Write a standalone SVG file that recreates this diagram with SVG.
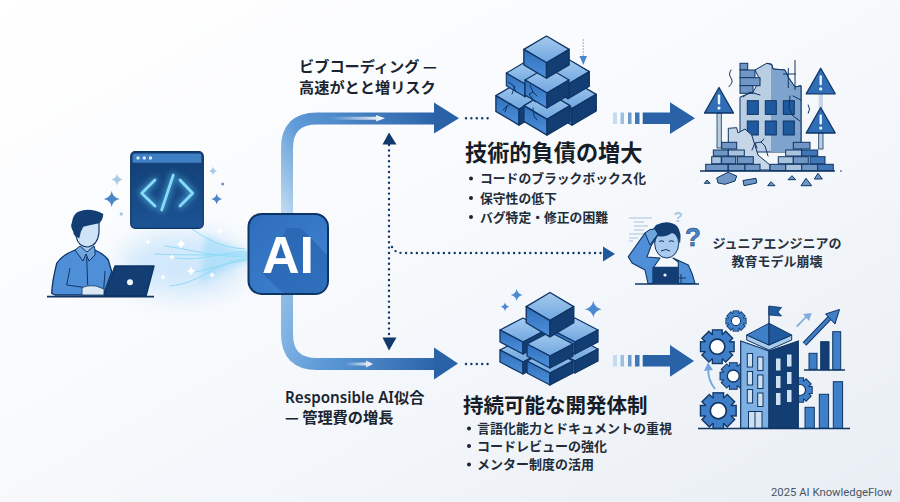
<svg xmlns="http://www.w3.org/2000/svg" width="900" height="502" viewBox="0 0 900 502">
<style>
text{font-family:"Noto Sans CJK JP","Noto Sans",sans-serif;fill:#1a2430}
.lab{font-size:15.2px;font-weight:700}
.head{font-size:22.2px;font-weight:700;fill:#151d28}
.item{font-size:12.8px;font-weight:700;fill:#222c38}
.jr{font-size:13px;font-weight:700;text-anchor:middle;fill:#27323f}
.win{fill:#1f5a9e;stroke:#0f3565;stroke-width:1}
.br{fill:#6f96c4;stroke:#0f3565;stroke-width:1}
.brl{fill:#a9c3df;stroke:#0f3565;stroke-width:1}
.brd{fill:#3f77b8;stroke:#0f3565;stroke-width:1}
.wtri{fill:#2f6db5;stroke:#0f3565;stroke-width:1.3;stroke-linejoin:round}
.pole{fill:#b9cde3;stroke:#0f3565;stroke-width:.8}
.ex{fill:#e8f3fc}
.crack{fill:none;stroke:#0f3565;stroke-width:1;stroke-linecap:round;stroke-linejoin:round}
.wl{fill:#cfe0f1;stroke:#0f3565;stroke-width:1}
.bar{fill:#3f7fc8;stroke:#0f3565;stroke-width:1}
.dot{fill:none;stroke:#10386a;stroke-width:2.4;stroke-linecap:round;stroke-dasharray:0 5.4}
.wave{fill:none;stroke:#8fdcf8;stroke-width:1;stroke-linecap:round}
.rub{fill:#6f96c4;stroke:#0f3565;stroke-width:1;stroke-linejoin:round}
</style>
<defs>
<linearGradient id="bg" x1="0" y1="0" x2="1" y2="1"><stop offset="0" stop-color="#ffffff"/><stop offset=".45" stop-color="#f8fafd"/><stop offset="1" stop-color="#e9eef4"/></linearGradient>
<linearGradient id="g1" gradientUnits="userSpaceOnUse" x1="287" y1="215" x2="440" y2="118"><stop offset="0" stop-color="#bcd8f0"/><stop offset=".3" stop-color="#5f9bd8"/><stop offset="1" stop-color="#2a62a8"/></linearGradient>
<linearGradient id="g2" gradientUnits="userSpaceOnUse" x1="287" y1="294" x2="440" y2="364"><stop offset="0" stop-color="#8dbbe6"/><stop offset=".35" stop-color="#5f9bd8"/><stop offset="1" stop-color="#2a62a8"/></linearGradient>
<linearGradient id="sh" x1="0" x2="1"><stop offset="0" stop-color="#fff" stop-opacity="0"/><stop offset="1" stop-color="#fff"/></linearGradient>
<linearGradient id="ai" x1="0" y1="0" x2="1" y2="1"><stop offset="0" stop-color="#2e6cba"/><stop offset="1" stop-color="#4086d4"/></linearGradient>
<linearGradient id="win" x1="0" y1="0" x2="0" y2="1"><stop offset="0" stop-color="#123e74"/><stop offset="1" stop-color="#1b5394"/></linearGradient>
<linearGradient id="ct" x1="0" y1="0" x2="0" y2="1"><stop offset="0" stop-color="#a6cbef"/><stop offset="1" stop-color="#6fa6e0"/></linearGradient>
<linearGradient id="cl" x1="0" y1="0" x2="0" y2="1"><stop offset="0" stop-color="#2f6eba"/><stop offset="1" stop-color="#4f91dc"/></linearGradient>
<filter id="b3" x="-50%" y="-50%" width="200%" height="200%"><feGaussianBlur stdDeviation="3"/></filter>
<filter id="b12" x="-50%" y="-80%" width="200%" height="260%"><feGaussianBlur stdDeviation="12"/></filter>
<g id="cube" stroke="#0f3565" stroke-width="1.3" stroke-linejoin="round">
<polygon points="0,0 -22,13 0,26 22,13" fill="url(#ct)"/>
<polygon points="-22,13 0,26 0,41 -22,28" fill="url(#cl)"/>
<polygon points="22,13 0,26 0,41 22,28" fill="#123e74"/>
</g>
<g id="flat" stroke="#0f3565" stroke-width="1.3" stroke-linejoin="round">
<polygon points="0,0 -23,12 0,24 23,12" fill="url(#ct)"/>
<polygon points="-23,12 0,24 0,36 -23,24" fill="url(#cl)"/>
<polygon points="23,12 0,24 0,36 23,24" fill="#123e74"/>
</g>
<path id="star" d="M0-10Q1.5-1.5 10 0Q1.5 1.5 0 10Q-1.5 1.5-10 0Q-1.5-1.5 0-10Z"/>
<g id="gear">
<g fill="#0f3565"><rect x="-3.4" y="-10.6" width="6.8" height="21.2"/><rect x="-3.4" y="-10.6" width="6.8" height="21.2" transform="rotate(45)"/><rect x="-3.4" y="-10.6" width="6.8" height="21.2" transform="rotate(90)"/><rect x="-3.4" y="-10.6" width="6.8" height="21.2" transform="rotate(135)"/><circle r="8.400"/></g>
<g fill="#3f7fc8"><rect x="-2.6" y="-9.8" width="5.2" height="19.6"/><rect x="-2.6" y="-9.8" width="5.2" height="19.6" transform="rotate(45)"/><rect x="-2.6" y="-9.8" width="5.2" height="19.6" transform="rotate(90)"/><rect x="-2.6" y="-9.8" width="5.2" height="19.6" transform="rotate(135)"/><circle r="7.600"/></g>
<circle r="4.600" fill="#fff" stroke="#0f3565"/>
</g>
<g id="warn"><polygon class="wtri" points="0,0 14.5,25.5 -14.5,25.5"/><rect class="ex" x="-1.2" y="7" width="2.4" height="10" rx="1"/><circle class="ex" cy="20.6" r="1.6"/></g>
</defs>
<rect width="900" height="502" fill="url(#bg)"/>

<g id="connectors">
<path d="M287 215V148Q287 118.500 317 118.500H436" fill="none" stroke="url(#g1)" stroke-width="12"/>
<polygon points="434,102.500 459,118.300 434,133.500" fill="#2a62a8"/>
<path d="M330 116.800H376V115L385 118.300L376 121.600V119.800H330Z" fill="url(#sh)"/>
<path d="M287 293V334Q287 364 317 364H436" fill="none" stroke="url(#g2)" stroke-width="12"/>
<polygon points="434,347.500 458,363.500 434,379.500" fill="#2a62a8"/>
<path d="M345 362.600H366V360.500L373 364L366 367.500V365.400H345Z" fill="url(#sh)"/>
<path class="dot" d="M389 145V338"/>
<path class="dot" d="M392 247Q395 253 403 253H603"/>
<polygon points="389,132.500 382.500,144.500 396.500,144.500" fill="#10386a"/>
<polygon points="382.500,337.500 396.500,337.500 389,350.500" fill="#10386a"/>
<polygon points="603,246.500 615,254 603,261.500" fill="#1f5a9e"/>
<path class="dot" d="M466 118.300H488"/>
<path class="dot" d="M466 364H488"/>
<g id="arrow-top">
<rect x="613" y="112.500" width="4" height="11.500" fill="#c5dbef"/><rect x="620.500" y="112.500" width="3.500" height="11.500" fill="#9dc0e2"/><rect x="628" y="112.500" width="3.500" height="11.500" fill="#6e9ccd"/><rect x="635" y="112.500" width="4.500" height="11.500" fill="#3f77b8"/>
<path d="M642.700 112.500H670V102.300L695 118.300L670 134V124H642.700Z" fill="#2a62a8"/>
</g>
<g id="arrow-bottom">
<rect x="613" y="355" width="4" height="11.500" fill="#c5dbef"/><rect x="620.500" y="355" width="3.500" height="11.500" fill="#9dc0e2"/><rect x="628" y="355" width="3.500" height="11.500" fill="#6e9ccd"/><rect x="635" y="355" width="4.500" height="11.500" fill="#3f77b8"/>
<path d="M642.700 355H670V345L694 361L670 376.700V366.500H642.700Z" fill="#2a62a8"/>
</g>
</g>

<g id="flow">
<ellipse cx="183" cy="264" rx="62" ry="32" fill="#c4e2fa" opacity=".75" filter="url(#b12)"/>
<path d="M205 236Q232 248 248 252V262Q225 268 200 284Z" fill="#a4dcfa" opacity=".7" filter="url(#b3)"/>
<path class="wave" d="M168 219C195 222 200 246 245 249"/>
<path class="wave" d="M155 254Q200 256 247 254"/>
<path class="wave" d="M165 246C195 250 215 258 247 256"/>
<path class="wave" d="M175 258C205 262 225 250 247 252"/>
<path class="wave" d="M170 286C200 284 215 262 247 258"/>
<path class="wave" d="M195 272C215 268 230 262 247 260"/>
<g fill="#fff"><use href="#star" transform="translate(181,244) scale(.5)"/><use href="#star" transform="translate(191,271) scale(.5)"/><use href="#star" transform="translate(220,231) scale(.35)"/><use href="#star" transform="translate(212,275) scale(.3)"/><use href="#star" transform="translate(172,257) scale(.3)"/><use href="#star" transform="translate(163,277) scale(.3)"/><use href="#star" transform="translate(148,242) scale(.3)"/></g>
</g>

<g id="developer">
<path d="M51.700 293.300Q52 282 56.700 263.300Q62 255 75 250L95 250Q104 254 108.300 260L111.700 271.700L103.300 295H55Z" fill="#4f8fd8" stroke="#0f3565" stroke-width="1.300" stroke-linejoin="round"/>
<path d="M86.700 256.700L87.700 285M70 268L66.700 285L83.300 287.300M105 271L103.300 295" fill="none" stroke="#0f3565" stroke-width="1"/>
<rect x="81" y="240" width="13" height="12" fill="#a9cbee"/>
<path d="M75 250L80 246L87 252L94 246L95 250L95 255L89 261L86 254L83 261Z" fill="#6ea5dc" stroke="#0f3565" stroke-width="1" stroke-linejoin="round"/>
<path d="M76 226V236Q78 247 88 247Q98 245 99 232V222Z" fill="#cfe3f6" stroke="#0f3565" stroke-width="1.200"/>
<path d="M79.300 238.300Q73 236 73.300 231.700Q70 226 71.700 223.300Q73 214 78.300 211.700Q90 207 103.300 214Q103 220 99.300 223.300Q90 225 83.300 226.700Q80 232 79.300 238.300Z" fill="#123e74"/>
<path d="M82 288Q86 285 96 286L104 289V295H82Z" fill="#dbe8f5" stroke="#0f3565" stroke-width=".8"/>
<polygon points="115,266 154,266 146,296 104,296" fill="#123e74" stroke="#0f3565" stroke-width="1.400" stroke-linejoin="round"/>
<circle cx="130" cy="282.300" r="3" fill="#f1f6fb"/>
<path d="M47 296.700H154" stroke="#0f3565" stroke-width="1.800"/>
</g>

<g id="code-window">
<rect x="130.700" y="151.700" width="72.600" height="76.600" rx="4.500" fill="url(#win)" stroke="#0f3565" stroke-width="1.200"/>
<path d="M132.500 155.500Q132.500 153.500 135 153.500H199Q201.500 153.500 201.500 155.500V162.700H132.500Z" fill="#3f7fc4"/>
<circle cx="138" cy="158" r="1.700" fill="#d8e9f8"/><circle cx="144.300" cy="158" r="1.700" fill="#d8e9f8"/><circle cx="150.500" cy="158" r="1.700" fill="#d8e9f8"/>
<path d="M155 180L141.700 193.300L155 206M173.300 175L161.700 210M180 180L192.700 193.300L180 206" fill="none" stroke="#5cc4f2" stroke-width="5" stroke-linecap="round" stroke-linejoin="round" filter="url(#b3)" opacity=".7"/>
<path d="M155 180L141.700 193.300L155 206M173.300 175L161.700 210M180 180L192.700 193.300L180 206" fill="none" stroke="#86dcf8" stroke-width="2.800" stroke-linecap="round" stroke-linejoin="round"/>
<g fill="#4a86c8"><use href="#star" transform="translate(111.700,199) scale(.8)"/><use href="#star" transform="translate(216.700,199) scale(.55)"/></g>
<g fill="#a9cbe6"><use href="#star" transform="translate(117,179.500) scale(.6)"/><use href="#star" transform="translate(213,171) scale(.45)"/></g>
<circle cx="222.700" cy="184" r="1.500" fill="#6a94bf"/><circle cx="121.300" cy="214" r="1.700" fill="#a9c8e0"/>
</g>

<g id="ai-node">
<rect x="248.500" y="214" width="79.500" height="80" rx="13" fill="url(#ai)" stroke="#0d3463" stroke-width="2"/>
<path d="M262 273L287 228L301 228L327 255V281Q327 293 315 293H283Z" fill="#2560ac" opacity=".6"/>
<text x="288" y="273" text-anchor="middle" style="font-family:'Liberation Sans',sans-serif;font-size:52px;font-weight:700;fill:#fff">AI</text>
</g>

<g id="vibe-label"><text class="lab" x="299" y="72">ビブコーディング —</text><text class="lab" x="299" y="92.500">高速がとと増リスク</text></g>

<g id="debt-cubes">
<use href="#cube" transform="translate(519,82) scale(1.050)"/>
<use href="#cube" transform="translate(572,80) scale(1.100)"/>
<use href="#cube" transform="translate(525,62) scale(.85)"/>
<use href="#cube" transform="translate(568,59) scale(.97)"/>
<use href="#cube" transform="translate(547,92) scale(1.050)"/>
<use href="#cube" transform="translate(547,67) scale(1)"/>
<use href="#cube" transform="translate(546.500,36) scale(1.030)"/>
<path class="crack" d="M508 82L513 85L516 92M515 86L512 94M505 112L507 106L511 104M507 106L503 110M530 85L533 92L529 94L535 102M533 92L537 96M533 108L534 116L537 120" stroke-width=".9"/>
<path class="dot" style="stroke:#7aa5d5;stroke-width:1.500;stroke-dasharray:0 3" d="M583.300 40V56"/>
<polygon points="579.500,56 587,56 583.300,65" fill="#4a86c8"/>
</g>

<g id="debt-text">
<text class="head" x="465" y="161">技術的負債の増大</text>
<circle cx="471" cy="178.500" r="2" fill="#1a2430"/><circle cx="471" cy="198" r="2" fill="#1a2430"/><circle cx="471" cy="217" r="2" fill="#1a2430"/>
<text class="item" x="480" y="183">コードのブラックボックス化</text>
<text class="item" x="480" y="202.500">保守性の低下</text>
<text class="item" x="480" y="221.500">バグ特定・修正の困難</text>
</g>

<g id="ruined-building">
<path d="M740 152V97L753 92L760 80L755 70L766.700 63.300L771.700 64.300L773 69L785 70L788 76.700L795 87L801 85.700V152Z" fill="#b9cde3" stroke="#0f3565" stroke-width="1" stroke-linejoin="round"/>
<path d="M771 64.800L773 69L785 70L788 76.700L795 87L801 85.700V152H771Z" fill="#7ea3cc"/>
<path d="M766.700 63.300L771.700 64.300L773 69L785 70L788 76.700L795 87L801 85.700V152" fill="none" stroke="#0f3565" stroke-width="1" stroke-linejoin="round"/>
<path d="M795 60V90M788.300 68V88M783 74H796" stroke="#0f3565" stroke-width="1" fill="none"/>
<rect class="br" x="740" y="63.300" width="7.700" height="6.700"/><rect class="br" x="740" y="70" width="15" height="7.700"/><rect class="br" x="740" y="77.700" width="20" height="8"/><rect class="br" x="740" y="85.700" width="13" height="7.600"/>
<rect class="win" x="747.300" y="100.700" width="11" height="13.700"/><rect class="win" x="765.300" y="100.700" width="11" height="13.700"/><rect class="win" x="783.300" y="100.700" width="11" height="13.700"/>
<rect class="win" x="747.300" y="121" width="11" height="14"/><rect class="win" x="765.300" y="121" width="11" height="14"/><rect class="win" x="783.300" y="121" width="11" height="14"/>
<path class="crack" d="M743 97L750 92L760 95M790 96L789 108L793 116L800 121M801 100L793 96"/>
<path d="M728.300 142V128.300L736.700 127.700L738 133L745 129L751.700 135L758 155L770 165V170H728.300Z" fill="#c5d6e8" stroke="#0f3565" stroke-width="1" stroke-linejoin="round"/>
<path class="crack" d="M752 150L755 143L761 142L765 146L768 156M761 142L764 139M755 143L757 148"/>
<rect class="pole" x="717" y="113" width="4.300" height="35"/><use href="#warn" transform="translate(719,87.500)"/>
<rect x="818.700" y="94" width="4.300" height="14" fill="#c8d8e8"/>
<rect class="pole" x="818.700" y="133" width="4.300" height="16"/><use href="#warn" transform="translate(820.700,68.300)"/><use href="#warn" transform="translate(820.700,107.500)"/>
<rect class="br" x="705.700" y="164.300" width="22.300" height="6.400"/><rect class="br" x="728.300" y="164.300" width="16.700" height="6.400"/><rect class="br" x="745" y="164.300" width="15" height="6.400"/>
<rect class="brl" x="711.700" y="156.700" width="9.500" height="7"/><rect class="br" x="721.700" y="156.700" width="14" height="7"/><rect class="br" x="737.300" y="156.700" width="16" height="7"/>
<rect class="br" x="713.300" y="150" width="15" height="6"/><rect class="brl" x="728.300" y="150" width="16" height="6"/>
<rect class="br" x="721.700" y="142.300" width="15" height="6.700"/>
<rect class="br" x="770" y="164.300" width="15.700" height="6.400"/><rect class="brl" x="785.700" y="164.300" width="16" height="6.400"/><rect class="br" x="801.700" y="164.300" width="16" height="6.400"/><rect class="brd" x="817.700" y="164.300" width="15.600" height="6.400"/>
<rect class="brl" x="778.300" y="156.700" width="15" height="7"/><rect class="br" x="793.300" y="156.700" width="15" height="7"/><rect class="brd" x="810" y="156.700" width="15" height="7"/>
<rect class="brl" x="785.700" y="150" width="16" height="6"/><rect class="brd" x="801.700" y="150" width="16" height="6"/>
<rect class="br" x="793.300" y="142.300" width="16.700" height="6.700"/>
<path d="M700 171H835" stroke="#0f3565" stroke-width="1.500"/><circle cx="841" cy="171" r=".8" fill="#0f3565"/>
<path class="crack" d="M731 70Q728 74 731 78T729 86.700M808.300 105Q811 109 808.300 113.300"/>
<polygon class="rub" points="704.300,183.300 707,180 710,183.300"/>
<polygon class="rub" points="716.700,178 728,172.300 736.700,176 735,181 725,184.300 718,183"/>
<polygon class="rub" points="743,180.500 756,178.300 756.700,183 744,185.700"/>
<polygon class="rub" points="767.700,185.700 771,181.700 775,185.700"/>
<polygon class="rub" points="788,179.700 792,175.700 795.700,179.700"/>
<polygon class="rub" points="801,185.700 806,178.300 811.700,185.700"/>
<polygon class="rub" points="814.300,179 818,173.300 822.300,179"/>
</g>

<g id="junior">
<g stroke="#a6c4e0" stroke-width="1.100" fill="none"><path d="M629 218H652M634 222H644M634 226H648M634 230H644M629 234H645M629 238H638M629 241H633"/></g>
<path d="M628.300 256.700L645 233L650 231L658 234L651 246L647 257L660 258L654 266.700V283.500H648L645 270L632 263Z" fill="#4f8fd8" stroke="#0f3565" stroke-width="1.100" stroke-linejoin="round"/>
<path d="M673 258L688.300 265Q693 274 695 283.500H678.300V262Z" fill="#4f8fd8" stroke="#0f3565" stroke-width="1.100" stroke-linejoin="round"/>
<ellipse cx="666.700" cy="243.500" rx="12" ry="14.500" fill="#a9cbee" stroke="#0f3565" stroke-width="1"/>
<path d="M654 244Q649 232 656 225Q668 219 677 226Q682 232 680 244Q677 234 672 233Q664 238 658 236Q655 240 654 244Z" fill="#123e74"/>
<path d="M645 233Q650 228 655 229L658 234L652 242L650 245Z" fill="#6ea5dc" stroke="#0f3565" stroke-width="1"/>
<path d="M661 251Q666 248 670 251M659 241.500Q661 240 664 241.500M669 241.500Q671 240 674 241.500" fill="none" stroke="#0f3565" stroke-width="1"/>
<rect x="652.300" y="266.700" width="26" height="17" fill="#123e74" rx="1"/>
<circle cx="665" cy="275" r="1.600" fill="#f1f6fb"/>
<path d="M681 274V283M678 278H686" stroke="#0f3565" stroke-width="1"/>
<path d="M635 284H699" stroke="#0f3565" stroke-width="1.500"/>
<text x="693" y="246" text-anchor="middle" style="font-family:'Liberation Sans',sans-serif;font-size:26px;font-weight:700;fill:#4a86c8;stroke:#0f3565;stroke-width:.5">?</text>
<text x="678" y="222" text-anchor="middle" style="font-family:'Liberation Sans',sans-serif;font-size:15px;font-weight:700;fill:#a9c8e6">?</text>
</g>
<g id="junior-label"><text class="jr" x="777" y="248">ジュニアエンジニアの</text><text class="jr" x="777" y="265.500">教育モデル崩壊</text></g>

<g id="sustain-cubes">
<use href="#flat" transform="translate(523,338)"/>
<use href="#flat" transform="translate(575,337)"/>
<use href="#flat" transform="translate(550,349)"/>
<use href="#flat" transform="translate(523,318)"/>
<use href="#flat" transform="translate(575,318)"/>
<use href="#flat" transform="translate(550,332)"/>
<use href="#cube" transform="translate(550,292.500) scale(1.080)"/>
<g fill="#4a8ad2"><use href="#star" transform="translate(516.700,295) scale(.6)"/><use href="#star" transform="translate(505,306.700) scale(.45)"/><use href="#star" transform="translate(593.300,309.300) scale(.85)"/></g>
</g>

<g id="responsible-label"><text class="lab" x="285" y="402.500" style="font-family:'Noto Sans','Noto Sans CJK JP',sans-serif;font-size:15.200px;font-weight:600">Responsible AI似合</text><text class="lab" x="285" y="423">— 管理費の増長</text></g>

<g id="sustain-text">
<text class="head" x="463" y="412.500" style="font-size:20.500px">持続可能な開発体制</text>
<circle cx="469" cy="428.500" r="2" fill="#1a2430"/><circle cx="469" cy="446" r="2" fill="#1a2430"/><circle cx="469" cy="464.500" r="2" fill="#1a2430"/>
<text class="item" x="477" y="433" style="font-size:13px">言語化能力とドキュメントの重視</text>
<text class="item" x="477" y="450.500" style="font-size:13px">コードレビューの強化</text>
<text class="item" x="477" y="469" style="font-size:13px">メンター制度の活用</text>
</g>

<g id="growth-building">
<use href="#gear" transform="translate(736,321)"/>
<use href="#gear" transform="translate(717.300,346.700) scale(1.650)"/>
<use href="#gear" transform="translate(733.300,376) scale(1.300)"/>
<use href="#gear" transform="translate(800,390) scale(1.200)"/>
<use href="#gear" transform="translate(718.300,410.700) scale(1.750)"/>
<path d="M715 389Q708 380 708.300 370" fill="none" stroke="#6ea5dc" stroke-width="1.800"/>
<polygon points="704,371 708,362.500 713,370" fill="#6ea5dc"/>
<polygon points="740.700,341 769,351 769,428.300 740.700,428.300" fill="#7fb0e4" stroke="#0f3565" stroke-width="1.200"/>
<polygon points="769,351 798.300,341 798.300,428.300 769,428.300" fill="#123e74" stroke="#0f3565" stroke-width="1.200"/>
<g class="wl"><rect x="747.300" y="353.500" width="5.300" height="13.500"/><rect x="757.700" y="357" width="5.300" height="13.500"/><rect x="747.300" y="371.500" width="5.300" height="13.500"/><rect x="757.700" y="375" width="5.300" height="13.500"/><rect x="747.300" y="389.500" width="5.300" height="13.500"/><rect x="757.700" y="393" width="5.300" height="13.500"/></g>
<g fill="#cfe0f1"><rect x="776" y="358.500" width="4.500" height="12"/><rect x="787" y="354.500" width="4.500" height="12"/><rect x="776" y="376" width="4.500" height="12"/><rect x="787" y="372" width="4.500" height="12"/><rect x="776" y="393" width="4.500" height="12"/><rect x="787" y="390" width="4.500" height="12"/></g>
<rect class="wl" x="748.500" y="411.500" width="13.500" height="16.800"/><path d="M755 411.500V428.300" stroke="#0f3565"/>
<polygon points="746.700,335 769,345 791.700,335 791.700,340 769,350 746.700,340" fill="#a9cbee" stroke="#0f3565" stroke-width="1"/>
<polygon points="746.700,335 769,323.300 769,345" fill="#3f7fc8" stroke="#0f3565" stroke-width="1"/>
<polygon points="791.700,335 769,323.300 769,345" fill="#1f5a9e" stroke="#0f3565" stroke-width="1"/>
<path d="M769 323V306" stroke="#0f3565" stroke-width="1.400"/>
<path d="M769 306L781.500 307.500L778 312L781.500 316L769 315Z" fill="#1f5a9e" stroke="#0f3565" stroke-width=".8"/>
<path d="M796.700 326.700L806 317" stroke="#7faedb" stroke-width="1.800"/>
<polygon points="803,314 811.700,313 809,321" fill="#7faedb"/>
<path d="M804.500 344L830 317.500" stroke="#0f3565" stroke-width="5"/><path d="M804.500 344L830 317.500" stroke="#3f7fc8" stroke-width="3"/>
<polygon points="825.500,314 839.500,309.500 835,324" fill="#3f7fc8" stroke="#0f3565"/>
<rect class="bar" x="809" y="353.300" width="8" height="16"/><rect x="820.700" y="341.700" width="8.300" height="28" fill="#123e74" stroke="#0f3565"/><rect class="bar" x="832.700" y="331.700" width="8" height="38"/>
<path d="M804 370H845" stroke="#0f3565" stroke-width="1.400"/>
<rect class="bar" x="805" y="407.300" width="9.300" height="21"/><rect class="bar" x="819.300" y="394.300" width="9.300" height="34"/><rect class="bar" x="833.300" y="381.700" width="9.300" height="46.700"/>
<path d="M698 428.500H850" stroke="#0f3565" stroke-width="1.500"/>
</g>

<text id="footer" x="771" y="496" style="font-family:'Roboto',sans-serif;font-size:11.300px;fill:#4a5563">2025 AI KnowledgeFlow</text>
</svg>
